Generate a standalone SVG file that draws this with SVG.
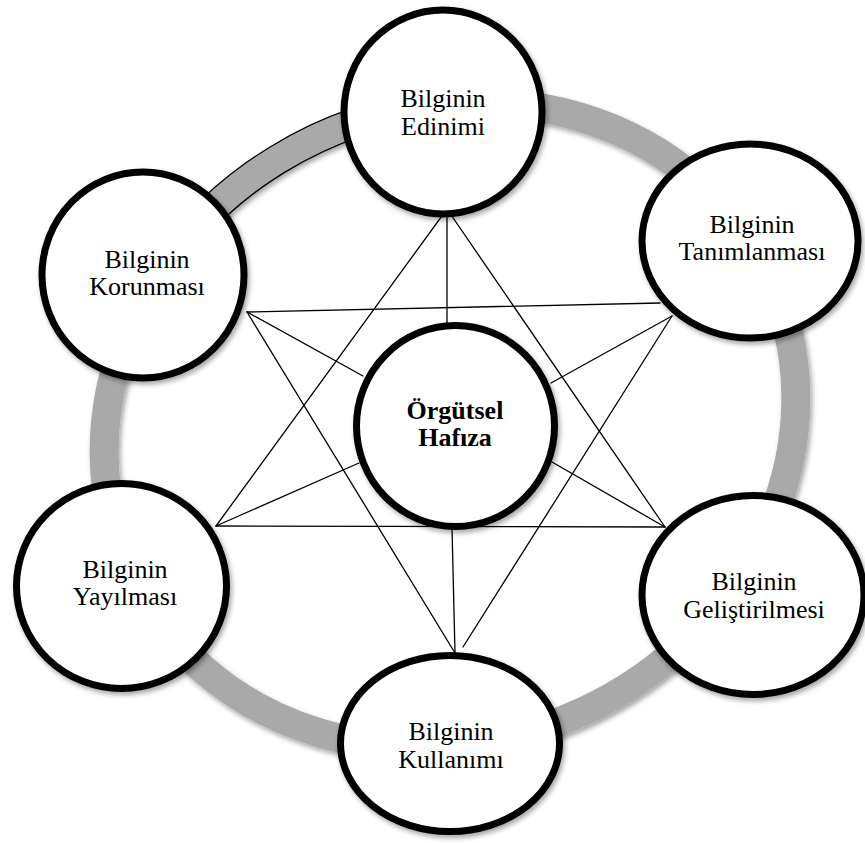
<svg xmlns="http://www.w3.org/2000/svg" width="865" height="843" viewBox="0 0 865 843">
<defs>
<filter id="sh" x="-20%" y="-20%" width="140%" height="140%">
<feDropShadow dx="2" dy="3" stdDeviation="2.5" flood-color="#000" flood-opacity="0.35"/>
</filter>
<style>
.node{fill:#fff;stroke:#000;stroke-width:7;filter:url(#sh)}
.lbl{font-family:"Liberation Serif","Times New Roman",serif;font-size:26px;fill:#000;text-anchor:middle}
.bold{font-weight:bold}
.ln{stroke:#000;stroke-width:1.3;fill:none;stroke-linecap:round}
</style>
</defs>
<rect width="865" height="843" fill="#fff"/>
<g id="ring" filter="url(#sh)">
<ellipse cx="450" cy="425" rx="352" ry="316" transform="rotate(-25 450 425)" fill="none" stroke="#a9a9a9" stroke-width="29"/>
<path d="M 154.5 280.7 A 352 316 -25 0 1 442.7 104" fill="none" stroke="#000" stroke-width="30.5"/>
<path d="M 154.5 280.7 A 352 316 -25 0 1 442.7 104" fill="none" stroke="#a9a9a9" stroke-width="28"/>
</g>
<g id="connectors">
<line class="ln" x1="447" y1="209" x2="216" y2="526"/>
<line class="ln" x1="447" y1="209" x2="665" y2="527"/>
<line class="ln" x1="216" y1="526" x2="665" y2="527"/>
<line class="ln" x1="247" y1="312" x2="660" y2="303"/>
<line class="ln" x1="247" y1="312" x2="455" y2="653"/>
<line class="ln" x1="672" y1="316" x2="463" y2="647"/>
<line class="ln" x1="447" y1="209" x2="447" y2="324"/>
<line class="ln" x1="247" y1="312" x2="363" y2="376"/>
<line class="ln" x1="672" y1="316" x2="551" y2="383"/>
<line class="ln" x1="216" y1="526" x2="359" y2="463"/>
<line class="ln" x1="665" y1="527" x2="552" y2="462"/>
<line class="ln" x1="455" y1="653" x2="452" y2="528"/>
</g>
<g id="n-edinimi">
<ellipse class="node" cx="443" cy="112" rx="99" ry="102"/>
<text class="lbl" x="443" y="107">Bilginin</text>
<text class="lbl" x="443" y="135">Edinimi</text>
</g>
<g id="n-tanimlanmasi">
<ellipse class="node" cx="750" cy="241" rx="108" ry="97"/>
<text class="lbl" x="752" y="233">Bilginin</text>
<text class="lbl" x="752" y="260">Tanımlanması</text>
</g>
<g id="n-korunmasi">
<ellipse class="node" cx="143" cy="275" rx="101" ry="103"/>
<text class="lbl" x="147" y="268">Bilginin</text>
<text class="lbl" x="147" y="295">Korunması</text>
</g>
<g id="n-orgutsel">
<ellipse class="node" cx="455.5" cy="426" rx="99" ry="100.5"/>
<text class="lbl bold" x="455" y="419">Örgütsel</text>
<text class="lbl bold" x="455" y="446">Hafıza</text>
</g>
<g id="n-yayilmasi">
<ellipse class="node" cx="121.5" cy="586" rx="105" ry="102.5"/>
<text class="lbl" x="125" y="578">Bilginin</text>
<text class="lbl" x="125" y="605">Yayılması</text>
</g>
<g id="n-gelistirilmesi">
<ellipse class="node" cx="753" cy="595" rx="111" ry="99.5"/>
<text class="lbl" x="754" y="590">Bilginin</text>
<text class="lbl" x="754" y="618">Geliştirilmesi</text>
</g>
<g id="n-kullanimi">
<ellipse class="node" cx="450" cy="743.5" rx="109.5" ry="88"/>
<text class="lbl" x="451" y="740">Bilginin</text>
<text class="lbl" x="451" y="768">Kullanımı</text>
</g>
</svg>
